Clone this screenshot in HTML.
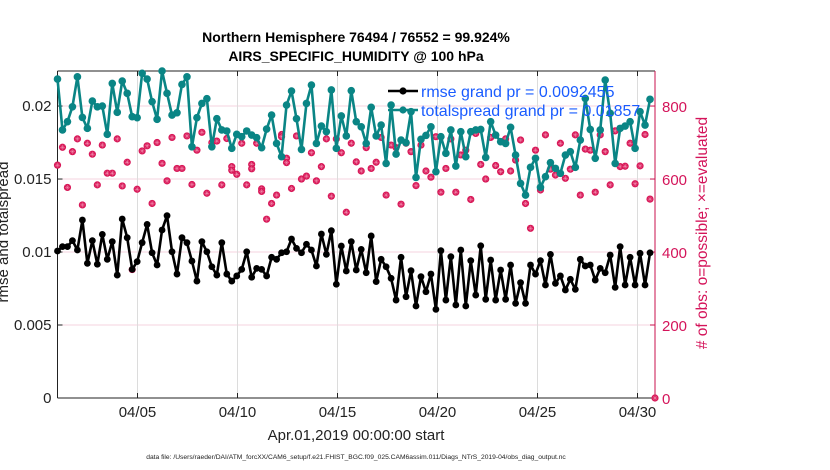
<!DOCTYPE html>
<html><head><meta charset="utf-8"><style>
html,body{margin:0;padding:0;background:#fff;width:830px;height:470px;overflow:hidden}
svg{display:block;font-family:"Liberation Sans",Arial,sans-serif}
</style></head><body>
<svg id="chart" width="830" height="470" viewBox="0 0 830 470" xmlns="http://www.w3.org/2000/svg">
<text x="356" y="42" text-anchor="middle" font-size="14" font-weight="bold">Northern Hemisphere 76494 / 76552 = 99.924%</text>
<text x="356" y="61" text-anchor="middle" font-size="14" font-weight="bold">AIRS_SPECIFIC_HUMIDITY @ 100 hPa</text>
<g id="grid"></g>
<g id="axes"></g>
<g id="marks"></g>
<text transform="translate(8,232) rotate(-90)" text-anchor="middle" font-size="15" fill="#222">rmse and totalspread</text>
<text transform="translate(707,233) rotate(-90)" text-anchor="middle" font-size="15.5" fill="#d4145a"># of obs: o=possible; ×=evaluated</text>
<text x="356" y="440" text-anchor="middle" font-size="15" fill="#222">Apr.01,2019 00:00:00 start</text>
<text x="356" y="459" text-anchor="middle" font-size="6.7" fill="#222">data file: /Users/raeder/DAI/ATM_forcXX/CAM6_setup/f.e21.FHIST_BGC.f09_025.CAM6assim.011/Diags_NTrS_2019-04/obs_diag_output.nc</text>
<g id="legend"></g>
</svg>
<script>
const rmse=[10.07,10.37,10.37,10.78,10.14,12.19,9.22,10.78,9.16,11.21,9.5,10.71,8.42,12.26,10.98,8.81,9.34,10.64,11.89,9.95,9.11,11.51,12.49,10.02,8.49,10.98,10.64,9.38,8.01,10.71,10.02,8.99,8.42,10.64,8.49,8.01,8.36,8.81,10.02,8.27,8.88,8.81,8.36,9.64,9.5,9.95,10.02,10.89,10.25,9.95,10.53,10.14,9.04,11.23,9.84,11.46,7.79,10.41,8.7,
10.71,8.77,10.18,8.58,11.1,7.97,9.5,8.99,8.2,6.71,9.64,6.94,8.72,6.3,8.31,7.28,8.49,6.07,10.09,6.71,9.68,6.37,10.14,6.3,9.41,7.05,10.43,6.76,9.45,6.71,8.77,6.76,9.11,6.48,7.9,6.48,9.11,8.49,9.41,7.74,9.84,7.85,8.36,7.4,8.13,7.44,9.5,9.04,9.11,8.08,8.88,8.58,9.79,7.58,10.37,7.74,9.64,7.74,9.91,7.74,9.95];
const spread=[21.85,18.36,18.93,19.95,22.0,19.22,18.47,20.34,19.95,20.0,18.06,21.55,19.57,21.71,20.87,19.27,19.2,22.24,21.85,20.3,19.09,22.4,20.87,19.38,19.54,21.48,22.0,17.21,19.2,20.18,20.5,
17.21,19.13,18.36,18.29,17.1,18.06,17.9,18.29,18.01,17.83,17.15,18.42,19.38,17.44,16.53,20.07,21.03,19.13,17.03,20.18,21.44,17.44,18.63,18.24,21.1,17.1,
19.32,17.95,21.05,18.93,18.58,17.44,19.91,17.95,18.7,16.07,20.07,16.71,17.67,17.49,19.61,15.11,17.72,17.99,18.58,15.5,17.9,16.76,18.36,15.89,18.24,16.53,18.24,18.36,18.4,16.48,18.93,18.01,17.56,17.44,18.54,16.64,14.7,13.9,15.8,16.42,14.43,15.16,16.12,15.73,15.39,16.64,16.87,15.8,17.67,20.52,18.4,16.42,18.36,21.78,19.5,16.07,18.47,18.63,18.93,17.1,19.61,18.7,20.46];
const possible=[638,687,577,675,710,529,698,668,584,693,616,616,710,581,646,352,572,677,691,533,700,643,595,714,629,629,718,585,679,728,561,
700,704,584,711,634,613,698,584,640,698,573,490,533,556,722,657,574,718,600,608,672,595,634,710,553,710,672,509,698,
647,622,686,629,646,714,556,693,686,531,698,675,582,693,622,605,716,564,629,710,564,666,679,544,725,640,600,714,637,620,
710,622,652,707,533,465,679,570,721,627,611,698,602,627,721,556,682,679,564,721,675,584,732,634,635,698,587,636,722,545,0];
const evaluated=[638,687,577,675,710,529,698,668,584,693,616,616,710,581,646,352,572,677,691,533,700,643,595,714,629,629,718,585,679,728,561,
700,704,584,711,624,613,698,584,628,698,566,490,533,556,716,645,574,718,600,608,672,595,634,710,553,710,672,509,698,
647,622,686,629,646,714,556,693,686,531,698,675,582,693,622,605,716,564,629,710,564,666,679,544,725,640,600,714,637,620,
710,622,652,707,533,465,679,570,721,627,611,698,602,627,721,556,682,679,564,721,675,584,732,634,635,698,587,636,722,545,0];
const leftTicks=[0,0.005,0.01,0.015,0.02];
const leftTickLabels=["0","0.005","0.01","0.015","0.02"];
const rightTicks=[0,200,400,600,800];
const dateTicks=[4,9,14,19,24,29];
const dateTickLabels=["04/05","04/10","04/15","04/20","04/25","04/30"];
const legendLabels=["rmse grand pr = 0.0092455","totalspread grand pr = 0.01857"];

const NS="http://www.w3.org/2000/svg";
const L=57.5,R=655,T=71,B=398;
const yL=v=>B-(v/0.0224)*(B-T);
const yR=n=>B-(n/896)*(B-T);
const xDay=d=>L+d*20;
const xIdx=i=>L+i*(R-L)/120;
function mk(tag,attrs,parent){const e=document.createElementNS(NS,tag);for(const k in attrs)e.setAttribute(k,attrs[k]);parent.appendChild(e);return e;}
const grid=document.getElementById('grid'),axes=document.getElementById('axes'),marks=document.getElementById('marks'),legend=document.getElementById('legend');

leftTicks.forEach((v,k)=>{
  if(v>0){const g=mk('line',{x1:L,x2:R,y1:yL(v),y2:yL(v),stroke:'#f6d3df','stroke-width':1},grid);
  
  }
  const tk=mk('line',{x1:L,x2:L+5,y1:yL(v),y2:yL(v),stroke:'#222'},axes);
  
  
  const t=mk('text',{x:L-6,y:yL(v)+5,'text-anchor':'end','font-size':15,fill:'#222'},axes);t.textContent=leftTickLabels[k];
  
  
});
rightTicks.forEach(n=>{
  const tk=mk('line',{x1:R-5,x2:R,y1:yR(n),y2:yR(n),stroke:'#c8104e'},axes);
  
  
  const t=mk('text',{x:R+7,y:yR(n)+6,'font-size':15,fill:'#d4145a'},axes);t.textContent=String(n);
  
  
});
dateTicks.forEach((d,k)=>{
  const g=mk('line',{x1:xDay(d),x2:xDay(d),y1:T,y2:B,stroke:'#dcdcdc','stroke-width':1},grid);
  
  
  mk('line',{x1:xDay(d),x2:xDay(d),y1:B,y2:B-5,stroke:'#222'},axes);
  mk('line',{x1:xDay(d),x2:xDay(d),y1:T,y2:T+5,stroke:'#222'},axes);
  const t=mk('text',{x:xDay(d),y:417,'text-anchor':'middle','font-size':15,fill:'#222'},axes);t.textContent=dateTickLabels[k];
  
  
});
mk('line',{x1:L,x2:R,y1:T,y2:T,stroke:'#222'},axes);
mk('line',{x1:L,x2:R,y1:B,y2:B,stroke:'#222'},axes);
mk('line',{x1:L,x2:L,y1:T,y2:B,stroke:'#222'},axes);
mk('line',{x1:R,x2:R,y1:T,y2:B,stroke:'#c8104e'},axes);

function redMark(x,y,parent,name){
  const g=mk('g',{},parent);
  
  
  mk('circle',{cx:x,cy:y,r:3.6,fill:'#d81858'},g);
  mk('path',{d:`M${x-2.4} ${y}H${x+2.4}M${x} ${y-2.4}V${y+2.4}M${x-1.7} ${y-1.7}L${x+1.7} ${y+1.7}M${x-1.7} ${y+1.7}L${x+1.7} ${y-1.7}`,stroke:'#f290b0','stroke-width':0.5},g);
}
possible.forEach((n,i)=>{
  redMark(xIdx(i),yR(n),marks,'obs-possible-point');
  if(evaluated[i]!==n) redMark(xIdx(i),yR(evaluated[i]),marks,'obs-evaluated-point');
});

function series(vals,color,name,hex){
  const pts=vals.map((v,i)=>[xIdx(i),yL(v/1000)]);
  const p=mk('polyline',{points:pts.map(q=>q.join(',')).join(' '),fill:'none',stroke:color,'stroke-width':2.6,'stroke-linejoin':'round'},marks);
  
  
  pts.forEach(q=>{
    const c=mk('circle',{cx:q[0],cy:q[1],r:hex?3.4:3.8,fill:color},marks);
    
    
  });
}
series(spread,'#0a8585','totalspread',false);
series(rmse,'#000','rmse',true);

[[0,'#000',91],[1,'#0a8585',110]].forEach(([k,c,y])=>{
  mk('line',{x1:388,x2:418,y1:y,y2:y,stroke:c,'stroke-width':2.6},legend);
  mk('circle',{cx:403,cy:y,r:3.6,fill:c},legend);
  const t=mk('text',{x:421,y:y+6,'font-size':16,fill:'#1a5cff'},legend);t.textContent=legendLabels[k];
  
  
});
</script>
</body></html>
